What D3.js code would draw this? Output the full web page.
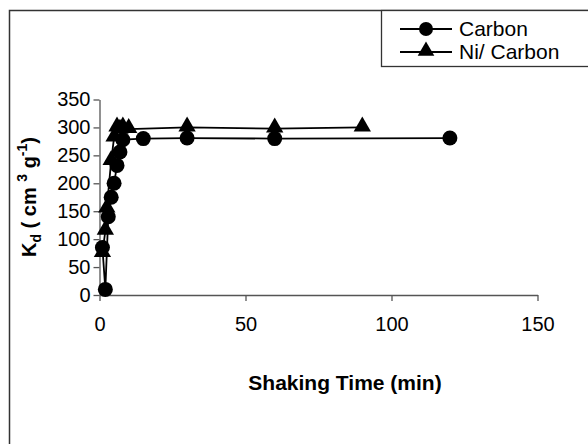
<!DOCTYPE html>
<html>
<head>
<meta charset="utf-8">
<script src="https://cdn.jsdelivr.net/npm/d3@7"></script>
<style>
  body { margin: 0; background: #fff; }
  svg { display: block; font-family: "Liberation Sans", Arial, sans-serif; }
</style>
</head>
<body>
<svg id="chart" width="588" height="444"></svg>
<script>
// values
const carbonTime = [1, 2, 3, 4, 5, 6, 7, 8, 15, 30, 60, 120];
const carbonKd = [85, 10, 140, 175, 200, 232, 256, 278, 280, 281, 280, 281];
const niTime = [1, 2, 2.5, 4, 5, 6, 7, 8, 10, 30, 60, 90];
const niKd = [75, 115, 155, 240, 282, 300, 296, 300, 297, 300, 298, 300];
const xTicks = [0, 50, 100, 150];
const yTicks = [0, 50, 100, 150, 200, 250, 300, 350];
const seriesNames = ["Carbon", "Ni/ Carbon"];

const svg = d3.select("#chart");

// outer chart frame (runs off right and bottom)
svg.append("rect")
  .attr("x", 9.5).attr("y", 10.5)
  .attr("width", 640).attr("height", 500)
  .attr("fill", "none").attr("stroke", "#333").attr("stroke-width", 1.5);

const x = d3.scaleLinear().domain([0, 150]).range([99.5, 537.5]);
const y = d3.scaleLinear().domain([0, 350]).range([295, 99.5]);

const xAxis = svg.append("g")
  .attr("transform", `translate(0,${y(0)})`)
  .call(d3.axisBottom(x).tickValues(xTicks).tickSize(6).tickSizeOuter(0).tickPadding(16));
const yAxis = svg.append("g")
  .attr("transform", `translate(${x(0)},0)`)
  .call(d3.axisLeft(y).tickValues(yTicks).tickSize(6).tickSizeOuter(0).tickPadding(3));

[xAxis, yAxis].forEach(g => {
  g.select(".domain").attr("stroke", "#555").attr("stroke-width", 1.3);
  g.selectAll(".tick line").attr("stroke", "#555").attr("stroke-width", 1.3);
  g.selectAll(".tick text").attr("font-size", 20).attr("fill", "#000")
    .attr("font-family", "'Liberation Sans', Arial, sans-serif");
});

// axis titles
svg.append("text")
  .attr("x", 345).attr("y", 390)
  .attr("text-anchor", "middle")
  .attr("font-size", 21).attr("font-weight", "bold")
  .text("Shaking Time (min)");

const yt = svg.append("text")
  .attr("transform", "translate(36,197) rotate(-90)")
  .attr("text-anchor", "middle")
  .attr("font-size", 20).attr("font-weight", "bold");
yt.append("tspan").text("K");
yt.append("tspan").attr("font-size", 14).attr("dy", 5).text("d");
yt.append("tspan").attr("dy", -5).text(" ( cm ");
yt.append("tspan").attr("font-size", 14).attr("dy", -9).text("3");
yt.append("tspan").attr("dy", 9).text(" g");
yt.append("tspan").attr("font-size", 14).attr("dy", -9).text("-1");
yt.append("tspan").attr("dy", 9).text(")");

const line = d3.line().x(d => x(d[0])).y(d => y(d[1]));
const carbon = carbonTime.map((t, i) => [t, carbonKd[i]]);
const ni = niTime.map((t, i) => [t, niKd[i]]);

const tri = d3.symbol().type(d3.symbolTriangle).size(130);

svg.append("path").datum(ni)
  .attr("d", line).attr("fill", "none").attr("stroke", "#000").attr("stroke-width", 1.8);
svg.append("path").datum(carbon)
  .attr("d", line).attr("fill", "none").attr("stroke", "#000").attr("stroke-width", 1.8);

svg.selectAll(".tri").data(ni).join("path")
  .attr("class", "tri")
  .attr("transform", d => `translate(${x(d[0])},${y(d[1]) - 1})`)
  .attr("d", tri).attr("fill", "#000");

svg.selectAll(".dot").data(carbon).join("circle")
  .attr("class", "dot")
  .attr("cx", d => x(d[0])).attr("cy", d => y(d[1]))
  .attr("r", 7.5).attr("fill", "#000");

// legend
const lg = svg.append("g");
lg.append("rect")
  .attr("x", 381.5).attr("y", 10.5).attr("width", 240).attr("height", 56)
  .attr("fill", "#fff").attr("stroke", "#333").attr("stroke-width", 1.3);
seriesNames.forEach((name, i) => {
  const yy = 29 + i * 23;
  lg.append("line").attr("x1", 400).attr("x2", 452).attr("y1", yy).attr("y2", yy)
    .attr("stroke", "#000").attr("stroke-width", 1.8);
  if (i === 0) {
    lg.append("circle").attr("cx", 426).attr("cy", yy).attr("r", 7).attr("fill", "#000");
  } else {
    lg.append("path").attr("transform", `translate(426,${yy - 1})`)
      .attr("d", d3.symbol().type(d3.symbolTriangle).size(120)).attr("fill", "#000");
  }
  lg.append("text").attr("x", 459).attr("y", yy + 7)
    .attr("font-size", 21).text(name);
});
</script>
</body>
</html>
